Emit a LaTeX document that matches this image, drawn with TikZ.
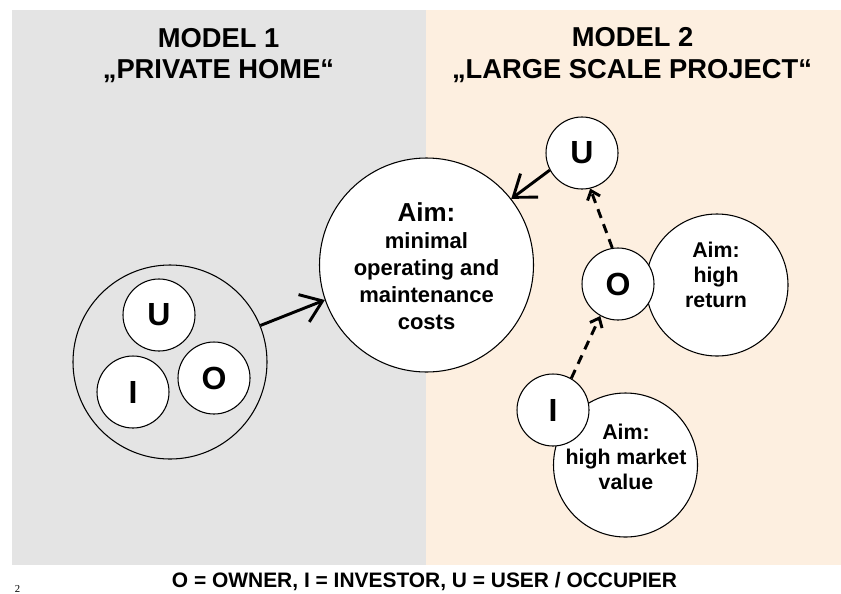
\documentclass[tikz,border=0pt]{standalone}
\usepackage{fontspec}
\setmainfont{Liberation Sans}
\newfontfamily\serifmark{Liberation Serif}
\usetikzlibrary{arrows.meta}
\definecolor{leftbg}{HTML}{E4E4E4}
\definecolor{rightbg}{HTML}{FDEFE0}
\tikzset{
  actor/.style={circle, draw=black, line width=0.8pt, fill=white, minimum size=54pt, inner sep=0pt,
    font=\bfseries\fontsize{24}{28}\selectfont},
  aimcircle/.style={circle, draw=black, line width=0.8pt, fill=white, inner sep=0pt},
  homecircle/.style={circle, draw=black, line width=0.8pt, inner sep=0pt},
  aimtext/.style={align=center, inner sep=0pt, font=\bfseries\fontsize{16}{18.75}\selectfont},
  titletext/.style={anchor=base, inner sep=0pt, font=\bfseries\fontsize{20.5}{24}\selectfont},
  solidarrow/.style={line width=2.2pt, -{Straight Barb[length=15pt,width=22pt]}},
  dasharrow/.style={line width=2.2pt, dash pattern=on 7pt off 5pt, -{Straight Barb[length=6pt,width=10pt]}},
}
\begin{document}
\begin{tikzpicture}[x=0.75pt,y=-0.75pt]
\useasboundingbox (0,0) rectangle (841,593);
% backgrounds
\fill[leftbg] (12,10) rectangle (426,565);
\fill[rightbg] (426,10) rectangle (841,565);
% titles
\node[titletext] (m1a) at (218.5,47) {MODEL 1};
\node[titletext] (m1b) at (218.5,78) {„PRIVATE HOME“};
\node[titletext] (m2a) at (632.5,46) {MODEL 2};
\node[titletext] (m2b) at (632,78) {„LARGE SCALE PROJECT“};
% model 1
\node[homecircle, minimum size=145.5pt] (home) at (170,362) {};
\node[actor] (U1) at (159,315) {U};
\node[actor] (I1) at (133,392) {I};
\node[actor] (O1) at (214,378) {O};
% central aim
\node[aimcircle, minimum size=160.5pt] (aim) at (426.5,265) {};
\node[aimtext, font=\bfseries\fontsize{16.5}{20.25}\selectfont] (aimtxt) at (426.5,266)
  {{\fontsize{19.5}{21}\selectfont Aim:}\\minimal\\operating and\\maintenance\\costs};
% model 2
\node[aimcircle, minimum size=106.5pt] (aimO) at (717,285) {};
\node[aimcircle, minimum size=108pt] (aimI) at (625.5,465) {};
\node[actor] (U2) at (582,153) {U};
\node[actor] (O2) at (618,284) {O};
\node[actor] (I2) at (553,410) {I};
\node[aimtext] (aimOtxt) at (716,275) {Aim:\\high\\return};
\node[aimtext] (aimItxt) at (626,457) {Aim:\\high market\\value};
% connectors
\draw[solidarrow] (home.22) -- (aim.199);
\draw[solidarrow] (U2.208) -- (aim.38.3);
\draw[dasharrow] (I2.60) -- (O2.241);
\draw[dasharrow] (O2.99.5) -- (U2.283);
% legend
\node[anchor=base, inner sep=0pt, font=\bfseries\fontsize{15.7}{18}\selectfont] (legend) at (424.5,587)
  {O = OWNER, I = INVESTOR, U = USER / OCCUPIER};
\node[anchor=base, inner sep=0pt, font=\serifmark\fontsize{8}{9}\selectfont] (mark) at (17.5,592) {2};
\end{tikzpicture}
\end{document}
